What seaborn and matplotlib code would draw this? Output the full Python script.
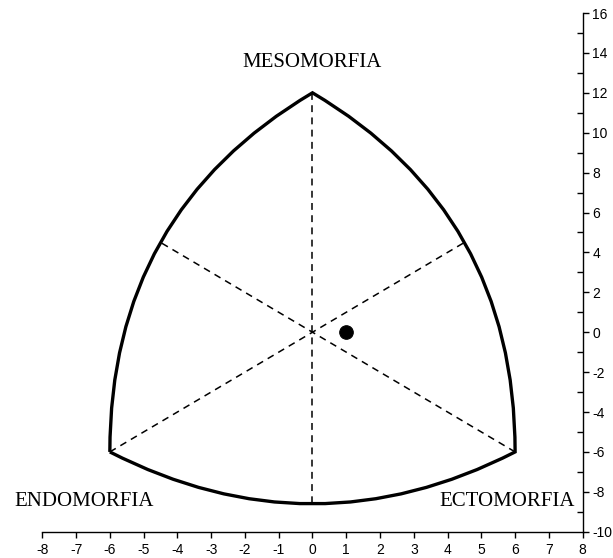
import matplotlib
matplotlib.use("Agg")
import matplotlib.pyplot as plt
from matplotlib.path import Path
from matplotlib.patches import PathPatch
from matplotlib.ticker import MultipleLocator
import seaborn as sns
import pandas as pd

# ---- data ----
subject_x = [1.0]
subject_y = [0.0]

# frame vertices (mesomorph, endomorph, ectomorph) and arc control points
frame_vertices_x = [0.0, -6.0, 6.0]
frame_vertices_y = [12.0, -6.0, -6.0]
arc_ctrl_x = [-6.0, 0.0, 6.0]     # left arc, bottom arc, right arc
arc_ctrl_y = [6.0, -11.2, 6.0]

# dashed axes of the somatochart (start x, start y, end x, end y)
dash_x0 = [0.0, -6.0, 6.0]
dash_y0 = [12.0, -6.0, -6.0]
dash_x1 = [0.0, 4.5, -4.5]
dash_y1 = [-8.6, 4.5, 4.5]

labels = ["MESOMORFIA", "ENDOMORFIA", "ECTOMORFIA"]
label_x = [0.0, -6.75, 5.75]
label_y = [13.5, -8.5, -8.5]

x_ticks = list(range(-8, 9))
y_major_ticks = list(range(-10, 17, 2))

# ---- figure ----
sns.set_theme(style="white")
plt.rcParams["font.family"] = ["Liberation Sans", "DejaVu Sans"]
plt.rcParams["text.color"] = "black"
plt.rcParams["xtick.color"] = "black"
plt.rcParams["ytick.color"] = "black"

fig = plt.figure(figsize=(6.13, 5.58), dpi=100)
ax = fig.add_axes([0.069, 0.0471, 0.9505 - 0.069, 0.9767 - 0.0471])

# outline: three quadratic Bezier arcs
(mx, ex, cx) = frame_vertices_x
(my, ey, cy) = frame_vertices_y
verts = [
    (ex, ey), (arc_ctrl_x[0], arc_ctrl_y[0]), (mx, my),
    (arc_ctrl_x[2], arc_ctrl_y[2]), (cx, cy),
    (arc_ctrl_x[1], arc_ctrl_y[1]), (ex, ey),
]
codes = [Path.MOVETO, Path.CURVE3, Path.CURVE3, Path.CURVE3, Path.CURVE3,
         Path.CURVE3, Path.CURVE3]
ax.add_patch(PathPatch(Path(verts, codes), facecolor="none",
                       edgecolor="black", lw=2.4, joinstyle="miter", zorder=3))

for x0, y0, x1, y1 in zip(dash_x0, dash_y0, dash_x1, dash_y1):
    ax.plot([x0, x1], [y0, y1], color="black", lw=1.1,
            dashes=(4.5, 3.5), zorder=2)

df = pd.DataFrame({"x": subject_x, "y": subject_y})
sns.scatterplot(data=df, x="x", y="y", ax=ax, s=95, color="black",
                edgecolor="black", zorder=4, legend=False)

for t, x, y in zip(labels, label_x, label_y):
    ax.text(x, y, t, ha="center", va="center", fontsize=15, color="black",
            family=["Liberation Serif", "DejaVu Serif"], clip_on=False)

ax.set_xlim(-8, 8)
ax.set_ylim(-10, 16)
ax.set_xlabel("")
ax.set_ylabel("")

ax.spines["top"].set_visible(False)
ax.spines["left"].set_visible(False)
for s in ("bottom", "right"):
    ax.spines[s].set_color("black")
    ax.spines[s].set_linewidth(1.0)

ax.set_xticks(x_ticks)
ax.set_xticklabels([str(v) for v in x_ticks])
ax.yaxis.tick_right()
ax.set_yticks(y_major_ticks)
ax.set_yticklabels([str(v) for v in y_major_ticks])
ax.yaxis.set_minor_locator(MultipleLocator(1))

ax.tick_params(axis="x", which="major", direction="out", length=4,
               width=1, color="black", labelcolor="black", labelsize=10,
               pad=4, bottom=True)
ax.tick_params(axis="y", which="major", direction="out", length=4,
               width=1, color="black", labelcolor="black", labelsize=10,
               pad=3, right=True, left=False)
ax.tick_params(axis="y", which="minor", direction="in", length=4,
               width=1, color="black", right=True, left=False)
ax.grid(False)
ax.set_facecolor("white")

fig.savefig("out.png", dpi=100)
